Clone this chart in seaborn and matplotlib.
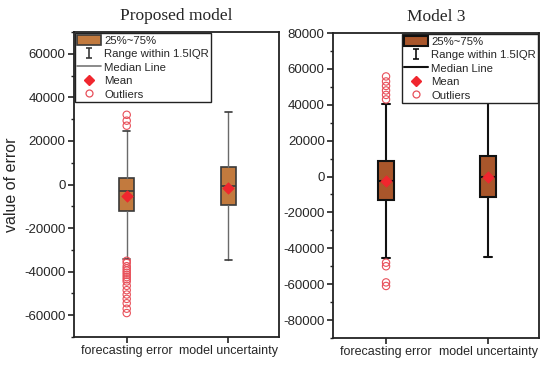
import numpy as np
import pandas as pd
import matplotlib
matplotlib.use("Agg")
import matplotlib.pyplot as plt
from matplotlib.path import Path
from matplotlib.lines import Line2D
from matplotlib.patches import Patch
import seaborn as sns

# ---------------- data ----------------
categories = ["forecasting error", "model uncertainty"]
titles = ["Proposed model", "Model 3"]

# Proposed model
p_whislo = [-34300, -34800]
p_q1 = [-12000, -9500]
p_med = [-3200, -900]
p_q3 = [3000, 8000]
p_whishi = [24500, 33500]
p_mean = [-5200, -1400]
p_out_fe = [27000, 29300, 32000,
            -35000, -36000, -37500, -38500, -39500, -40500, -41500, -42500,
            -43500, -44500, -46500, -48500, -50500, -52500, -54500, -57000, -59000]
p_out_mu = []

# Model 3
m_whislo = [-45300, -45000]
m_q1 = [-13200, -11500]
m_med = [-2600, 0]
m_q3 = [8500, 11300]
m_whishi = [40700, 45700]
m_mean = [-2600, -500]
m_out_fe = [43000, 45500, 48000, 50500, 53000, 55800, -48000, -50000, -59000, -61000]
m_out_mu = []

legend_labels = ["25%~75%", "Range within 1.5IQR", "Median Line", "Mean", "Outliers"]

# ---------------- style ----------------
sns.set_style("ticks")
plt.rcParams["font.family"] = ["Liberation Sans", "DejaVu Sans"]

fig = plt.figure(figsize=(5.5, 3.67), dpi=100)
ax1 = fig.add_axes([0.1345, 0.0817, 0.3725, 0.8311])
ax2 = fig.add_axes([0.6055, 0.079, 0.3745, 0.831])

red = "#F0262E"
out_red = "#E8505A"

panels = [
    dict(ax=ax1, whislo=p_whislo, q1=p_q1, med=p_med, q3=p_q3, whishi=p_whishi,
         mean=p_mean, outs=[p_out_fe, p_out_mu], face="#C27A3E", edge="#3A3A3A",
         wcol="#6A6A6A", lw=1.2, wlw=1.0, ylim=(-70000, 70000),
         yticks=np.arange(-60000, 60001, 20000), ylab="value of error",
         leg_loc="upper left", leg_anchor=(0.0, 1.0)),
    dict(ax=ax2, whislo=m_whislo, q1=m_q1, med=m_med, q3=m_q3, whishi=m_whishi,
         mean=m_mean, outs=[m_out_fe, m_out_mu], face="#A9562B", edge="#111111",
         wcol="#111111", lw=1.5, wlw=1.5, ylim=(-90000, 80000),
         yticks=np.arange(-80000, 80001, 20000), ylab=None,
         leg_loc="upper right", leg_anchor=(1.0, 1.0)),
]

for i, P in enumerate(panels):
    ax = P["ax"]
    stats = []
    for k in range(len(categories)):
        stats.append(dict(whislo=P["whislo"][k], q1=P["q1"][k], med=P["med"][k],
                          q3=P["q3"][k], whishi=P["whishi"][k], fliers=[],
                          label=categories[k]))
    ax.bxp(stats, positions=[0, 1], widths=0.15, showfliers=False, showmeans=False,
           patch_artist=True,
           boxprops=dict(facecolor=P["face"], edgecolor=P["edge"], linewidth=P["lw"]),
           medianprops=dict(color=P["edge"], linewidth=P["lw"]),
           whiskerprops=dict(color=P["wcol"], linewidth=P["wlw"]),
           capprops=dict(color=P["edge"], linewidth=P["lw"]),
           capwidths=0.07, zorder=2)
    # outliers
    odf = pd.DataFrame({"x": [c for c, o in zip([0, 1], P["outs"]) for _ in o],
                        "y": [v for o in P["outs"] for v in o]})
    sns.scatterplot(data=odf, x="x", y="y", ax=ax, marker="o", s=28,
                    facecolor="none", edgecolor=out_red, linewidth=0.8, zorder=3,
                    legend=False)
    # means
    mdf = pd.DataFrame({"x": [0, 1], "y": P["mean"]})
    sns.scatterplot(data=mdf, x="x", y="y", ax=ax, marker="D", s=34,
                    color=red, edgecolor=red, linewidth=0.5, zorder=4, legend=False)

    ax.set_xlim(-0.52, 1.5)
    ax.set_ylim(*P["ylim"])
    ax.set_xticks([0, 1])
    ax.set_xticklabels(categories, fontsize=9)
    ax.set_yticks(P["yticks"])
    ax.set_yticklabels([f"{int(v)}" for v in P["yticks"]], fontsize=9.5)
    ax.yaxis.set_minor_locator(matplotlib.ticker.MultipleLocator(10000))
    ax.tick_params(axis="both", which="major", direction="out", length=4, width=1.2,
                   color="#222222", pad=2)
    ax.tick_params(axis="y", which="minor", direction="out", length=2.5, width=1.0,
                   color="#222222")
    ax.set_xlabel("")
    ax.set_ylabel(P["ylab"] if P["ylab"] else "", fontsize=11.5)
    for s in ax.spines.values():
        s.set_visible(True)
        s.set_linewidth(1.3)
        s.set_color("#222222")
    ax.set_title(titles[i], fontsize=12.5, family=["Liberation Serif", "DejaVu Serif"],
                 pad=9)

    # legend
    ipath = Path([(-0.5, -1), (0.5, -1), (0, -1), (0, 1), (-0.5, 1), (0.5, 1)],
                 [Path.MOVETO, Path.LINETO, Path.MOVETO, Path.LINETO, Path.MOVETO, Path.LINETO])
    handles = [
        Patch(facecolor=P["face"], edgecolor=P["edge"], linewidth=P["lw"]),
        Line2D([], [], linestyle="none", marker=ipath, markersize=7.5,
               markeredgecolor=P["edge"], markeredgewidth=1.2, color=P["edge"]),
        Line2D([], [], color=P["edge"] if i == 1 else "#777777", linewidth=P["lw"]),
        Line2D([], [], linestyle="none", marker="D", markersize=5, color=red),
        Line2D([], [], linestyle="none", marker="o", markersize=5,
               markerfacecolor="none", markeredgecolor=out_red, markeredgewidth=0.9),
    ]
    leg = ax.legend(handles, legend_labels, loc=P["leg_loc"],
                    bbox_to_anchor=P["leg_anchor"], borderaxespad=0.1,
                    fontsize=8.2, frameon=True, fancybox=False, framealpha=1,
                    edgecolor="#222222", handlelength=2.1, handleheight=1.0,
                    handletextpad=0.3, labelspacing=0.22, borderpad=0.15)
    leg.get_frame().set_linewidth(1.0)

fig.savefig("out.png", dpi=100, facecolor="white")
